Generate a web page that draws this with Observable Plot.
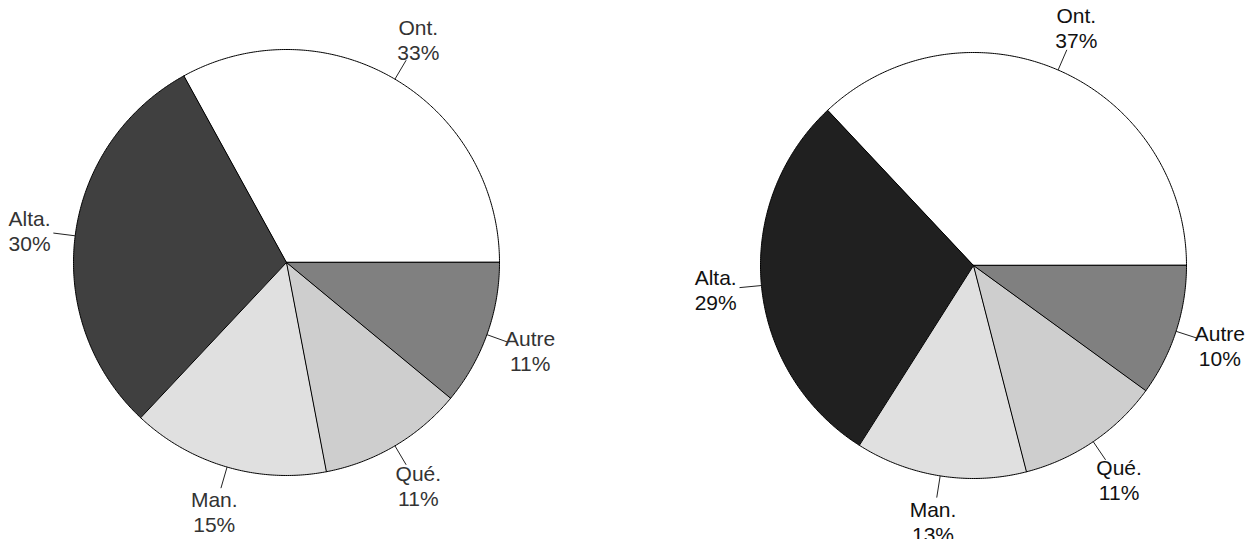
<!DOCTYPE html>
<html>
<head>
<meta charset="utf-8">
<script src="https://cdn.jsdelivr.net/npm/d3@7"></script>
<script src="https://cdn.jsdelivr.net/npm/@observablehq/plot@0.6"></script>
<style>
  html, body { margin: 0; padding: 0; background: #fff; }
  svg { display: block; }
</style>
</head>
<body>
<div id="chart"></div>
<script>
// ---- data ----
const categories = ["Ont.", "Alta.", "Man.", "Qué.", "Autre"];
const leftValues = [33, 30, 15, 11, 11];
const rightValues = [37, 29, 13, 11, 10];

// ---- styles / layout ----
const leftFills = ["#ffffff", "#404040", "#e0e0e0", "url(#stipple)", "#808080"];
const rightFills = ["#ffffff", "#202020", "#e0e0e0", "url(#stipple)", "#808080"];
const W = 1251, H = 539;
const pies = [
  {values: leftValues, fills: leftFills, cx: 286, cy: 262, r: 213, textColor: "#333333"},
  {values: rightValues, fills: rightFills, cx: 973, cy: 265, r: 213, textColor: "#111111"}
];
const leaderIn = 0, leaderOut = 22, labelOffset = 46;

const slices = [], leaders = [], labels = [];
pies.forEach((p, pi) => {
  const total = d3.sum(p.values);
  let acc = 0;
  p.values.forEach((v, i) => {
    const a0 = acc / total * 2 * Math.PI;
    acc += v;
    const a1 = acc / total * 2 * Math.PI;
    const key = pi + "-" + i;
    slices.push({key, x: p.cx, y: p.cy, fill: p.fills[i]});
    const n = Math.max(2, Math.ceil((a1 - a0) / (Math.PI / 360)));
    for (let k = 0; k <= n; k++) {
      const a = a0 + (a1 - a0) * k / n;
      slices.push({key, x: p.cx + p.r * Math.cos(a), y: p.cy - p.r * Math.sin(a), fill: p.fills[i]});
    }
    const am = (a0 + a1) / 2;
    const c = Math.cos(am), s = Math.sin(am);
    leaders.push({
      x1: p.cx + (p.r + leaderIn) * c, y1: p.cy - (p.r + leaderIn) * s,
      x2: p.cx + (p.r + leaderOut) * c, y2: p.cy - (p.r + leaderOut) * s
    });
    labels.push({
      x: p.cx + (p.r + labelOffset) * c, y: p.cy - (p.r + labelOffset) * s,
      text: categories[i] + "\n" + v + "%", color: p.textColor
    });
  });
});

const chart = Plot.plot({
  width: W, height: H,
  margin: 0,
  x: {domain: [0, W], range: [0, W], axis: null},
  y: {domain: [0, H], range: [0, H], axis: null},
  color: {type: "identity"},
  style: {fontFamily: "'Liberation Sans', Arial, sans-serif", background: "#fff"},
  marks: [
    Plot.line(slices, {x: "x", y: "y", z: "key", fill: "fill", stroke: "#000", strokeWidth: 1, curve: "linear-closed"}),
    Plot.link(leaders, {x1: "x1", y1: "y1", x2: "x2", y2: "y2", stroke: "#222", strokeWidth: 1}),
    Plot.text(labels, {x: "x", y: "y", text: "text", fill: "color", fontSize: 21, lineHeight: 1.19, textAnchor: "middle"})
  ]
});

// stipple pattern for "Qué."
const defs = d3.create("svg:defs");
const pat = defs.append("pattern").attr("id", "stipple").attr("patternUnits", "userSpaceOnUse")
  .attr("width", 2).attr("height", 2);
pat.append("rect").attr("width", 2).attr("height", 2).attr("fill", "#e4e4e4");
pat.append("rect").attr("x", 0).attr("y", 0).attr("width", 1).attr("height", 1).attr("fill", "#aaaaaa");
pat.append("rect").attr("x", 1).attr("y", 1).attr("width", 1).attr("height", 1).attr("fill", "#c4c4c4");
chart.insertBefore(defs.node(), chart.firstChild);

document.getElementById("chart").appendChild(chart);
</script>
</body>
</html>
